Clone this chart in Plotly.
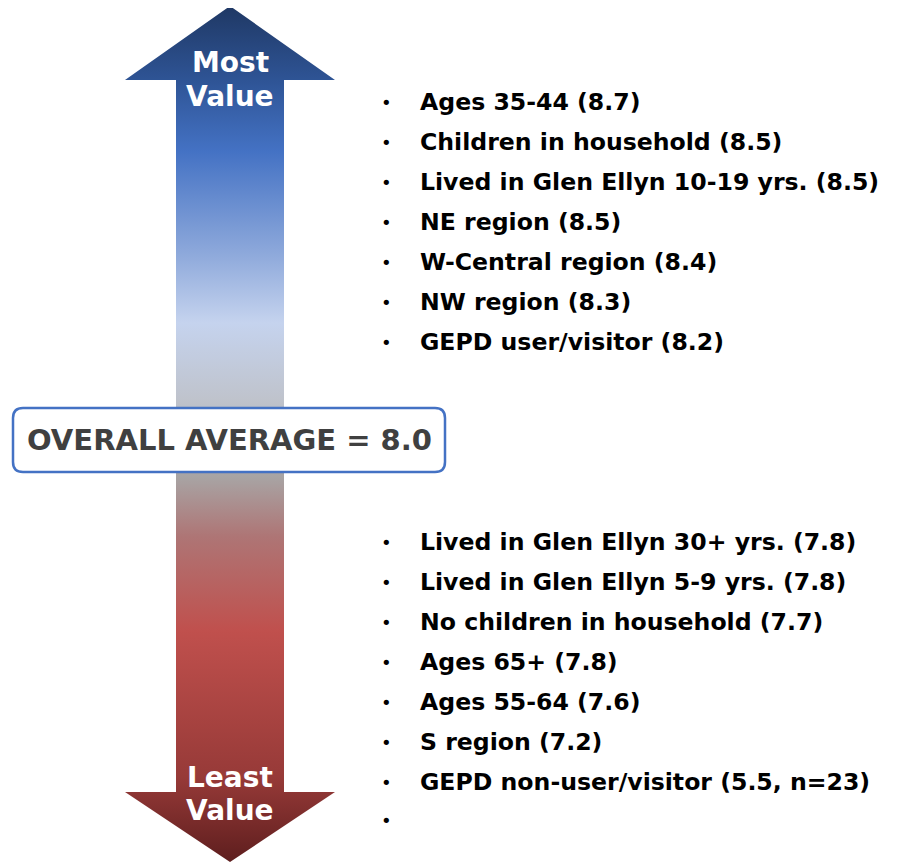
import plotly.graph_objects as go

W, H = 897, 862
PAD = 8  # page body margin; axis ranges are shifted so data units equal page pixels

# ---- data -------------------------------------------------------------
top_labels = ['Ages 35-44', 'Children in household', 'Lived in Glen Ellyn 10-19 yrs.',
              'NE region', 'W-Central region', 'NW region', 'GEPD user/visitor']
top_scores = [8.7, 8.5, 8.5, 8.5, 8.4, 8.3, 8.2]

bottom_labels = ['Lived in Glen Ellyn 30+ yrs.', 'Lived in Glen Ellyn 5-9 yrs.',
                 'No children in household', 'Ages 65+', 'Ages 55-64', 'S region',
                 'GEPD non-user/visitor']
bottom_scores = [7.8, 7.8, 7.7, 7.8, 7.6, 7.2, 5.5]
bottom_notes = ['', '', '', '', '', '', 'n=23']

overall_average = 8.0

# ---- look -------------------------------------------------------------
font_family = 'DejaVu Sans'
text_color = '#000000'
arrow_colors = [
    [0.00, '#1F3864'], [0.09, '#2F5597'], [0.17, '#4472C4'], [0.29, '#8EA9DB'],
    [0.37, '#C5D3EE'], [0.46, '#BFC3CC'], [0.55, '#A8A4A4'], [0.62, '#AE7575'],
    [0.73, '#C0504D'], [0.90, '#973A38'], [1.00, '#5E1E1E'],
]

# arrow outline (pixel space, y grows downward)
cx, shaft_half, head_half = 230, 54, 105
top_tip, top_base = 6, 80
bot_base, bot_tip = 792, 862
arrow_x = [cx, cx + head_half, cx + shaft_half, cx + shaft_half, cx + head_half, cx,
           cx - head_half, cx - shaft_half, cx - shaft_half, cx - head_half, cx]
arrow_y = [top_tip, top_base, top_base, bot_base, bot_base, bot_tip,
           bot_base, bot_base, top_base, top_base, top_tip]

fig = go.Figure()
fig.add_trace(go.Scatter(
    x=arrow_x, y=arrow_y, mode='lines', fill='toself', line=dict(width=0),
    fillgradient=dict(type='vertical', colorscale=arrow_colors, start=top_tip, stop=bot_tip),
    hoverinfo='skip', showlegend=False
))

annotations = []
for txt, y in [('Most', 62), ('Value', 96), ('Least', 777), ('Value', 810)]:
    annotations.append(dict(x=cx, y=y, text=txt, showarrow=False, xanchor='center', yanchor='middle',
                            font=dict(family=font_family, size=28, color='white', weight='bold')))

# bullet lists
def add_items(labels, scores, notes, y0):
    for i, (lab, sc) in enumerate(zip(labels, scores)):
        note = notes[i] if notes else ''
        val = f'{sc}' + (f', {note}' if note else '')
        y = y0 + i * 40
        annotations.append(dict(x=386, y=y, text='•', showarrow=False, xanchor='center', yanchor='middle',
                                font=dict(family=font_family, size=18, color=text_color)))
        annotations.append(dict(x=418, y=y, text=f'{lab} ({val})', showarrow=False,
                                xanchor='left', yanchor='middle',
                                font=dict(family=font_family, size=23.6, color=text_color, weight='bold')))

add_items(top_labels, top_scores, None, 102)
add_items(bottom_labels, bottom_scores, bottom_notes, 542)
annotations.append(dict(x=386, y=820, text='•', showarrow=False, xanchor='center', yanchor='middle',
                        font=dict(family=font_family, size=18, color=text_color)))

# overall average box
annotations.append(dict(x=229, y=440, text=f'OVERALL AVERAGE = {overall_average:.1f}', showarrow=False,
                        xanchor='center', yanchor='middle',
                        font=dict(family=font_family, size=29, color='#404040', weight='bold')))

x0, x1, y0, y1, r = 13, 445, 408, 472, 10
box_path = (f'M {x0 + r},{y0} L {x1 - r},{y0} Q {x1},{y0} {x1},{y0 + r} L {x1},{y1 - r} '
            f'Q {x1},{y1} {x1 - r},{y1} L {x0 + r},{y1} Q {x0},{y1} {x0},{y1 - r} '
            f'L {x0},{y0 + r} Q {x0},{y0} {x0 + r},{y0} Z')

fig.update_layout(
    width=W, height=H,
    margin=dict(l=0, r=0, t=0, b=0),
    plot_bgcolor='white', paper_bgcolor='white',
    xaxis=dict(range=[PAD, W + PAD], visible=False, fixedrange=True),
    yaxis=dict(range=[H + PAD, PAD], visible=False, fixedrange=True),
    shapes=[dict(type='path', path=box_path, fillcolor='white',
                 line=dict(color='#4472C4', width=2.5), layer='above')],
    annotations=annotations,
)

fig.write_html('out.html')
